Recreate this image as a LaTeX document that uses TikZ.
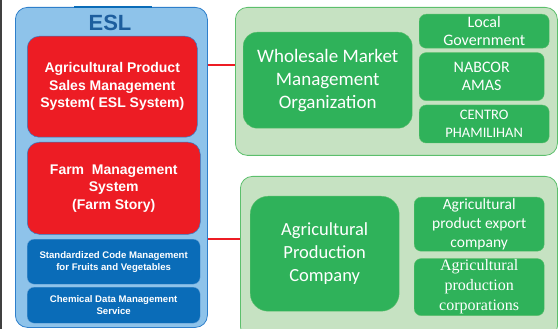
\documentclass[tikz,border=0pt]{standalone}
\usepackage{fontspec}
\setmainfont{Liberation Sans}
\newfontfamily\calfont{Carlito}
\newfontfamily\timesfont{Liberation Serif}
\definecolor{eslred}{HTML}{ED1C24}
\definecolor{eslblue}{HTML}{8EC3EA}
\definecolor{eslborder}{HTML}{2E7FCB}
\definecolor{darkblue}{HTML}{0A6CB8}
\definecolor{titleblue}{HTML}{1D5E9E}
\definecolor{palegreen}{HTML}{C6E2C2}
\definecolor{newgreen}{HTML}{2FB25A}
\definecolor{greenline}{HTML}{5CBF6C}
\usetikzlibrary{positioning, calc, fit, backgrounds}

\begin{document}
\begin{tikzpicture}[x=1pt, y=-1pt,
		redbox/.style = {fill = eslred, draw = eslborder, line width=0.5pt, rounded corners=12pt, text = white, font = \bfseries\fontsize{14}{17.5}\selectfont, align = center, inner sep=0pt, anchor = north west},
		bluebox/.style = {fill = darkblue, draw = eslborder!70, line width=0.3pt, rounded corners=7pt, text = white, font = \bfseries\fontsize{9.6}{12}\selectfont, align = center, inner sep=0pt, anchor = north west},
		greenbox/.style = {fill = newgreen, draw = greenline, line width=0.4pt, rounded corners=7pt, text = white, font = \calfont\fontsize{16}{18.5}\selectfont, align = center, inner sep=0pt, anchor = north west},
		bigbox/.style = {greenbox, rounded corners=14pt, font = \calfont\fontsize{19}{23}\selectfont},
		frame/.style = {line width=0.8pt, rounded corners=12pt, anchor = north west, inner sep=0pt},
		link/.style = {draw = eslred, line width=2.2pt}]
		\useasboundingbox (0,0) rectangle (558,329);
		\draw[black!75, line width=1.5pt] (0.75,0) -- (0.75,329);
		% ESL column
		\node[frame, fill = eslblue, draw = eslborder, minimum width=192pt, minimum height=320pt] (esl) at (15,7) {};
		\draw[darkblue, line width=2pt] ($(esl.north west)+(59,0)$) -- ($(esl.north west)+(137,0)$);
		\node[text = titleblue, font = \bfseries\fontsize{22}{24}\selectfont] (lab_esl) at (110,23) {ESL};
		\node[redbox, minimum width=170pt, minimum height=101pt] (sales) at (27,36) {Agricultural Product\\Sales Management\\System( ESL System)};
		\node[redbox, minimum width=173pt, minimum height=92pt] (farm) at (27,142) {Farm\ \ Management\\System\\(Farm Story)};
		\node[bluebox, minimum width=173pt, minimum height=45pt] (code) at (27,239) {Standardized Code Management\\for Fruits and Vegetables};
		\node[bluebox, minimum width=173pt, minimum height=36pt] (chem) at (27,287) {Chemical Data Management\\Service};
		% wholesale group
		\node[frame, fill = palegreen, draw = greenline, minimum width=322pt, minimum height=148pt] (market) at (235,7) {};
		\node[bigbox, minimum width=169pt, minimum height=96pt] (whole) at (243,32) {Wholesale Market\\Management\\Organization};
		\node[greenbox, minimum width=130pt, minimum height=34pt] (local) at (419,14) {Local\\Government};
		\node[greenbox, minimum width=125pt, minimum height=48pt, below = 4pt of local.south west, anchor = north west] (nabcor) {NABCOR\\AMAS};
		\node[greenbox, minimum width=130pt, minimum height=38pt, font = \calfont\fontsize{14.5}{18}\selectfont, below = 4pt of nabcor.south west, anchor = north west] (centro) {CENTRO\\PHAMILIHAN};
		% production group
		\node[frame, fill = palegreen, draw = greenline, minimum width=317pt, minimum height=162pt] (prod) at (240,176) {};
		\node[bigbox, rounded corners=18pt, minimum width=149pt, minimum height=115pt, font = \calfont\fontsize{18.5}{23}\selectfont] (agri) at (250,196) {Agricultural\\Production\\Company};
		\node[greenbox, minimum width=130pt, minimum height=54pt, font = \calfont\fontsize{15.5}{19}\selectfont] (export) at (414,197) {Agricultural\\product export\\company};
		\node[greenbox, minimum width=130pt, minimum height=57pt, font = \timesfont\fontsize{16}{20}\selectfont, below = 7pt of export.south west, anchor = north west] (corp) {Agricultural\\production\\corporations};
		% links
		\draw[link] (esl.east |- 0,65) -- (market.west |- 0,65);
		\draw[link] (esl.east |- 0,239) -- (prod.west |- 0,239);
	\end{tikzpicture}
\end{document}
